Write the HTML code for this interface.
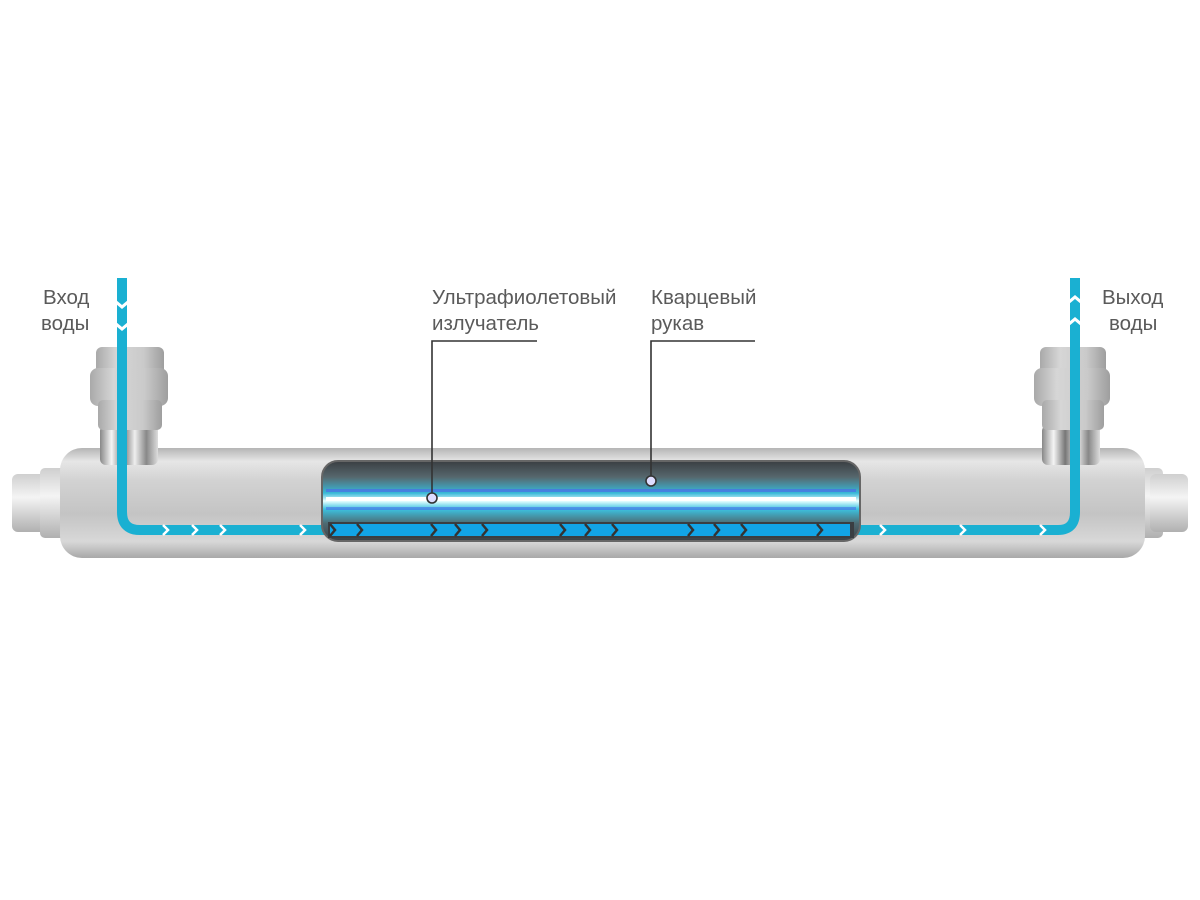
<!DOCTYPE html>
<html><head><meta charset="utf-8"><style>
html,body{margin:0;padding:0;background:#fff;width:1200px;height:900px;overflow:hidden}
svg{display:block}
text{font-family:"Liberation Sans","DejaVu Sans",sans-serif;font-size:20.5px;fill:#5a5a5a}
</style></head><body>
<svg width="1200" height="900" viewBox="0 0 1200 900" xmlns="http://www.w3.org/2000/svg">
<defs>
<linearGradient id="tube" x1="0" y1="0" x2="0" y2="1">
<stop offset="0" stop-color="#b5b5b5"/><stop offset="0.12" stop-color="#e6e6e6"/><stop offset="0.3" stop-color="#d2d2d2"/><stop offset="0.6" stop-color="#c4c4c4"/><stop offset="0.85" stop-color="#d8d8d8"/><stop offset="1" stop-color="#a8a8a8"/>
</linearGradient>
<linearGradient id="nut" x1="0" y1="0" x2="0" y2="1">
<stop offset="0" stop-color="#cfcfcf"/><stop offset="0.4" stop-color="#f4f4f4"/><stop offset="1" stop-color="#b0b0b0"/>
</linearGradient>
<linearGradient id="fit" x1="0" y1="0" x2="1" y2="0">
<stop offset="0" stop-color="#a9a9a9"/><stop offset="0.3" stop-color="#d6d6d6"/><stop offset="0.7" stop-color="#cacaca"/><stop offset="1" stop-color="#9e9e9e"/>
</linearGradient>
<linearGradient id="win" x1="0" y1="0" x2="0" y2="1">
<stop offset="0" stop-color="#3a3e42"/><stop offset="0.2" stop-color="#56676d"/><stop offset="0.4" stop-color="#38b8d8"/><stop offset="0.5" stop-color="#e8ffff"/><stop offset="0.6" stop-color="#3cc2e0"/><stop offset="0.78" stop-color="#4d6a72"/><stop offset="1" stop-color="#3b3f44"/>
</linearGradient>
<linearGradient id="neck" x1="0" y1="0" x2="1" y2="0">
<stop offset="0" stop-color="#888"/><stop offset="0.2" stop-color="#f5f5f5"/><stop offset="0.4" stop-color="#777"/><stop offset="0.6" stop-color="#eee"/><stop offset="0.8" stop-color="#888"/><stop offset="1" stop-color="#ddd"/>
</linearGradient>
</defs>

<rect x="12" y="474" width="40" height="58" rx="6" fill="url(#nut)"/>
<rect x="40" y="468" width="28" height="70" rx="5" fill="url(#nut)"/>
<rect x="1135" y="468" width="28" height="70" rx="5" fill="url(#nut)"/>
<rect x="1150" y="474" width="38" height="58" rx="6" fill="url(#nut)"/>

<rect x="60" y="448" width="1085" height="110" rx="22" fill="url(#tube)"/>

<rect x="100" y="425" width="58" height="40" rx="6" fill="url(#neck)"/>
<rect x="96" y="347" width="68" height="30" rx="6" fill="url(#fit)"/>
<rect x="90" y="368" width="78" height="38" rx="8" fill="url(#fit)"/>
<rect x="98" y="400" width="64" height="30" rx="5" fill="url(#fit)"/>
<rect x="1042" y="425" width="58" height="40" rx="6" fill="url(#neck)"/>
<rect x="1040" y="347" width="66" height="30" rx="6" fill="url(#fit)"/>
<rect x="1034" y="368" width="76" height="38" rx="8" fill="url(#fit)"/>
<rect x="1042" y="400" width="62" height="30" rx="5" fill="url(#fit)"/>

<path d="M122 278 V512 Q122 530 140 530 H1058 Q1075 530 1075 512 V278" fill="none" stroke="#1ab0d2" stroke-width="10"/>
<g fill="#fff">
<path d="M116 300 l6 5 6 -5 v4 l-6 5 -6 -5z"/>
<path d="M116 322 l6 5 6 -5 v4 l-6 5 -6 -5z"/>
<path d="M1069 300 l6 -5 6 5 v4 l-6 -5 -6 5z"/>
<path d="M1069 322 l6 -5 6 5 v4 l-6 -5 -6 5z"/>
</g>
<g fill="none" stroke="#fff" stroke-width="2.5">
<path d="M163 525 l5 5 -5 5"/><path d="M192 525 l5 5 -5 5"/><path d="M220 525 l5 5 -5 5"/><path d="M300 525 l5 5 -5 5"/>
<path d="M880 525 l5 5 -5 5"/><path d="M960 525 l5 5 -5 5"/><path d="M1040 525 l5 5 -5 5"/>
</g>

<rect x="322" y="461" width="538" height="80" rx="16" fill="url(#win)" stroke="#666" stroke-width="2"/>
<rect x="326" y="489" width="530" height="3" fill="#4a6ee8" opacity="0.7"/>
<rect x="326" y="497" width="530" height="4" fill="#ffffff"/>
<rect x="326" y="507" width="530" height="3" fill="#4a6ee8" opacity="0.6"/>
<rect x="328" y="522" width="526" height="16" fill="#3a3e42"/>
<rect x="330" y="524" width="520" height="12" fill="#12a4e6"/>
<g fill="none" stroke="#333" stroke-width="2.5">
<path d="M330 524 l5 6 -5 6"/><path d="M357 524 l5 6 -5 6"/><path d="M431 524 l5 6 -5 6"/><path d="M455 524 l5 6 -5 6"/><path d="M482 524 l5 6 -5 6"/><path d="M560 524 l5 6 -5 6"/><path d="M585 524 l5 6 -5 6"/><path d="M612 524 l5 6 -5 6"/><path d="M688 524 l5 6 -5 6"/><path d="M714 524 l5 6 -5 6"/><path d="M741 524 l5 6 -5 6"/><path d="M817 524 l5 6 -5 6"/>
</g>

<g fill="none" stroke="#333" stroke-width="1.6">
<path d="M537 341 H432 V493"/><circle cx="432" cy="498" r="5" fill="#ddf"/>
<path d="M755 341 H651 V476"/><circle cx="651" cy="481" r="5" fill="#ddf"/>
</g>

<text x="43" y="304">Вход</text>
<text x="41" y="330">воды</text>
<text x="432" y="304">Ультрафиолетовый</text>
<text x="432" y="330">излучатель</text>
<text x="651" y="304">Кварцевый</text>
<text x="651" y="330">рукав</text>
<text x="1102" y="304">Выход</text>
<text x="1109" y="330">воды</text>
</svg>
</body></html>
